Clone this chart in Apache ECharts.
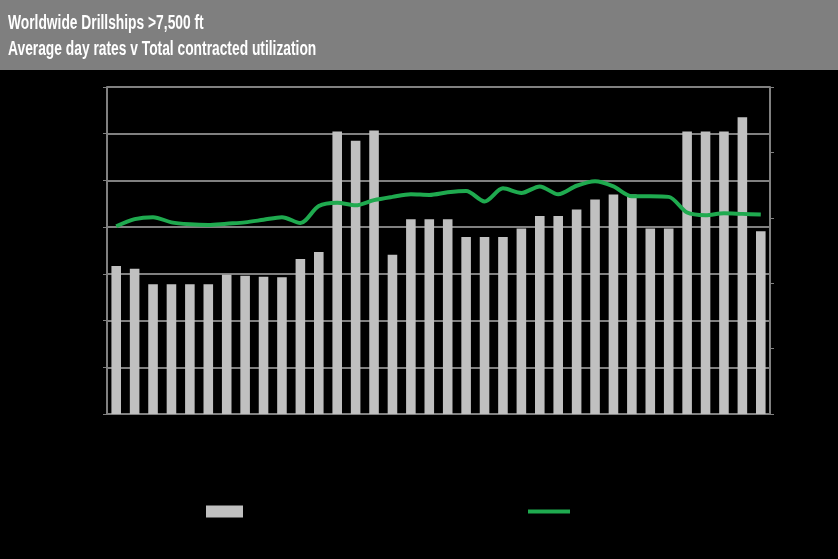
<!DOCTYPE html>
<html>
<head>
<meta charset="utf-8">
<script src="https://cdn.jsdelivr.net/npm/echarts@6/dist/echarts.min.js"></script>
<style>
  html, body { margin: 0; padding: 0; background: #000; }
  #chart { width: 838px; height: 559px; }
</style>
</head>
<body>
<div id="chart"></div>
<script>
  // quarterly periods, 36 of them
  var quarters = [];
  for (var y = 6; y <= 14; y++) {
    for (var q = 1; q <= 4; q++) {
      quarters.push(q + 'Q' + (y < 10 ? '0' + y : y));
    }
  }

  // average day rate ($k/day)
  var dayRates = [317, 311, 278, 278, 278, 278, 298, 296, 294, 293, 332, 347,
                  605, 585, 607, 341, 417, 417, 417, 379, 379, 379, 397, 424,
                  424, 438, 459, 470, 470, 397, 397, 605, 605, 605, 635, 391];

  // total contracted utilization (%)
  var utilization = [78.7, 79.8, 80.1, 79.3, 79.0, 78.9, 79.1, 79.3, 79.7, 80.1, 79.2, 81.8,
                     82.3, 81.9, 82.7, 83.2, 83.6, 83.5, 83.9, 84.1, 82.5, 84.5, 83.8, 84.8,
                     83.6, 84.9, 85.6, 84.8, 83.3, 83.3, 83.2, 80.8, 80.4, 80.7, 80.6, 80.5];

  var gridColor = '#808080';
  var hiddenText = '#000';

  var chart = echarts.init(document.getElementById('chart'));
  chart.setOption({
    backgroundColor: '#000',
    animation: false,
    graphic: [{
      type: 'rect',
      left: 0,
      top: 0,
      shape: { width: 838, height: 70 },
      style: { fill: '#7f7f7f' },
      z: -1
    }, {
      type: 'text',
      x: 8,
      y: 10,
      scaleX: 0.69,
      style: {
        text: 'Worldwide Drillships >7,500 ft\nAverage day rates v Total contracted utilization',
        fill: '#fff',
        font: 'bold 20px "Liberation Sans", Arial, sans-serif',
        lineHeight: 26
      }
    }],
    legend: [{
      data: ['Average day rate'],
      left: 201,
      top: 500,
      itemWidth: 37,
      itemHeight: 12,
      icon: 'rect',
      textStyle: { color: hiddenText, fontSize: 13 }
    }, {
      data: ['Total contracted utilization'],
      left: 523,
      top: 500,
      itemWidth: 42,
      itemHeight: 4,
      icon: 'rect',
      textStyle: { color: hiddenText, fontSize: 13 }
    }],
    grid: {
      left: 107,
      right: 68,
      top: 87,
      bottom: 145
    },
    xAxis: {
      type: 'category',
      data: quarters,
      axisLine: { lineStyle: { color: gridColor, width: 2 } },
      axisTick: { interval: 1, length: 6, lineStyle: { color: gridColor } },
      axisLabel: { interval: 1, color: hiddenText, fontSize: 9 }
    },
    yAxis: [{
      type: 'value',
      min: 0,
      max: 700,
      interval: 100,
      axisLine: { show: true, lineStyle: { color: gridColor, width: 2 } },
      axisTick: { show: true, length: 4, lineStyle: { color: gridColor } },
      axisLabel: { color: hiddenText, fontSize: 10 },
      splitLine: { lineStyle: { color: gridColor, width: 2 } }
    }, {
      type: 'value',
      min: 50,
      max: 100,
      interval: 10,
      position: 'right',
      axisLine: { show: true, lineStyle: { color: gridColor, width: 2 } },
      axisTick: { show: true, length: 4, lineStyle: { color: gridColor } },
      axisLabel: { color: hiddenText, fontSize: 10, formatter: '{value}%' },
      splitLine: { show: false }
    }],
    series: [{
      name: 'Average day rate',
      type: 'bar',
      data: dayRates,
      barWidth: '52%',
      itemStyle: { color: '#c0c0c0' }
    }, {
      name: 'Total contracted utilization',
      type: 'line',
      yAxisIndex: 1,
      data: utilization,
      showSymbol: false,
      smooth: 0.3,
      itemStyle: { color: '#1faa4f' },
      lineStyle: { color: '#1faa4f', width: 4 },
      z: 5
    }]
  });
</script>
</body>
</html>
